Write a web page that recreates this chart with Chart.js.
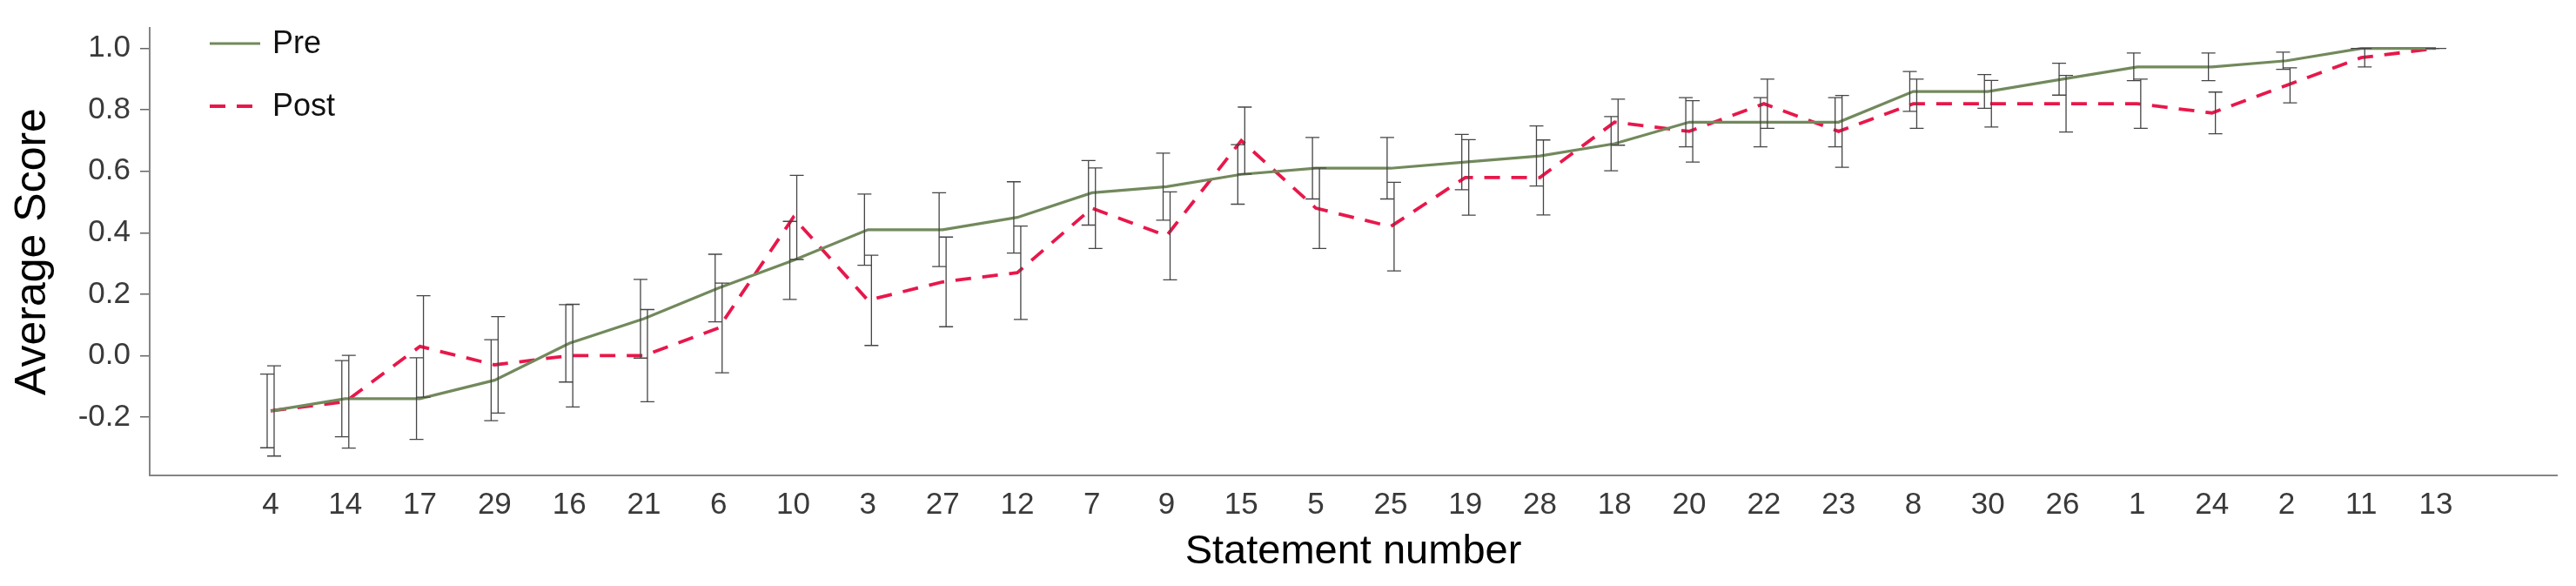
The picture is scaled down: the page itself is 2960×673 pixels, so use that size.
<!DOCTYPE html>
<html>
<head>
<meta charset="utf-8">
<script src="https://cdn.jsdelivr.net/npm/chart.js@4.4.1/dist/chart.umd.min.js"></script>
<style>
  html, body { margin: 0; padding: 0; background: #fff; }
  #wrap { width: 2960px; height: 673px; }
</style>
</head>
<body>
<div id="wrap"><canvas id="chart-statements" width="2960" height="673"></canvas></div>
<script>
// statement order on the x axis
var statements = ['4','14','17','29','16','21','6','10','3','27','12','7','9','15','5',
                  '25','19','28','18','20','22','23','8','30','26','1','24','2','11','13'];

// average scores
var preScore  = [-0.18,-0.14,-0.14,-0.08, 0.04, 0.12, 0.22, 0.31, 0.41, 0.41, 0.45, 0.53, 0.55, 0.59, 0.61,
                  0.61, 0.63, 0.65, 0.69, 0.76, 0.76, 0.76, 0.86, 0.86, 0.90, 0.94, 0.94, 0.96, 1.00, 1.00];
var postScore = [-0.18,-0.15, 0.03,-0.03, 0.00, 0.00, 0.09, 0.45, 0.18, 0.24, 0.27, 0.48, 0.39, 0.70, 0.48,
                  0.42, 0.58, 0.58, 0.76, 0.73, 0.82, 0.73, 0.82, 0.82, 0.82, 0.82, 0.79, 0.88, 0.97, 1.00];

// error bar half widths
var preErr  = [0.120,0.124,0.133,0.132,0.126,0.128,0.110,0.127,0.116,0.120,0.116,0.105,0.109,0.097,0.100,
               0.100,0.090,0.098,0.088,0.080,0.080,0.080,0.065,0.055,0.052,0.045,0.045,0.028,0.000,0.000];
var postErr = [0.147,0.151,0.165,0.157,0.167,0.150,0.146,0.137,0.147,0.146,0.152,0.131,0.143,0.109,0.131,
               0.144,0.123,0.122,0.075,0.100,0.080,0.117,0.080,0.076,0.092,0.080,0.068,0.057,0.030,0.000];

var yTicks = [-0.2, 0.0, 0.2, 0.4, 0.6, 0.8, 1.0];

var fontFam = "'Liberation Sans', Arial, sans-serif";

function toPoints(arr) {
  return arr.map(function (v, i) { return {x: i, y: v}; });
}

//ERROR BARS
var errorBars = {
  id: 'errorBars',
  afterDatasetsDraw: function (chart) {
    var ctx = chart.ctx;
    var xs = chart.scales.x, ys = chart.scales.y;
    var sets = [
      {mean: preScore, err: preErr, shift: -4},
      {mean: postScore, err: postErr, shift: 4}
    ];
    ctx.save();
    ctx.strokeStyle = '#454545';
    ctx.lineWidth = 1.3;
    sets.forEach(function (s) {
      for (var i = 0; i < s.mean.length; i++) {
        var px = xs.getPixelForValue(i) + s.shift;
        var top = ys.getPixelForValue(s.mean[i] + s.err[i]);
        var bot = ys.getPixelForValue(s.mean[i] - s.err[i]);
        ctx.beginPath();
        ctx.moveTo(px, top); ctx.lineTo(px, bot);
        ctx.moveTo(px - 8, top); ctx.lineTo(px + 8, top);
        ctx.moveTo(px - 8, bot); ctx.lineTo(px + 8, bot);
        ctx.stroke();
      }
    });
    ctx.restore();
  }
};

//LEGEND (inside the plot, top left)
var insideLegend = {
  id: 'insideLegend',
  afterDraw: function (chart) {
    var ctx = chart.ctx;
    var area = chart.chartArea;
    ctx.save();
    ctx.font = '36px ' + fontFam;
    ctx.textBaseline = 'middle';
    chart.data.datasets.forEach(function (ds, k) {
      var y = area.top + 18 + k * 72;
      var x0 = area.left + 69;
      ctx.strokeStyle = ds.borderColor;
      ctx.lineWidth = ds.borderWidth;
      ctx.setLineDash(ds.borderDash || []);
      ctx.beginPath();
      ctx.moveTo(x0, y); ctx.lineTo(x0 + 58, y);
      ctx.stroke();
      ctx.setLineDash([]);
      ctx.fillStyle = '#111';
      ctx.fillText(ds.label, x0 + 72, y + 1);
    });
    ctx.restore();
  }
};

var ctx = document.getElementById('chart-statements').getContext('2d');
var chart = new Chart(ctx, {
  type: 'line',
  data: {
    datasets: [
      {
        label: 'Pre',
        data: toPoints(preScore),
        borderColor: '#72895c',
        borderWidth: 3.2,
        pointRadius: 0,
        tension: 0,
        fill: false
      },
      {
        label: 'Post',
        data: toPoints(postScore),
        borderColor: '#e8174a',
        borderWidth: 3.8,
        borderDash: [18, 13],
        pointRadius: 0,
        tension: 0,
        fill: false
      }
    ]
  },
  options: {
    responsive: false,
    animation: false,
    layout: { padding: { top: 21, right: 22, left: 0, bottom: 0 } },
    plugins: {
      legend: { display: false },
      tooltip: { enabled: false }
    },
    scales: {
      x: {
        type: 'linear',
        min: -1.62,
        max: 30.62,
        afterBuildTicks: function (scale) {
          scale.ticks = statements.map(function (s, i) { return {value: i}; });
        },
        afterFit: function (scale) { scale.height = 127; },
        grid: { display: false, drawTicks: false },
        border: { display: true, color: '#858585', width: 2 },
        ticks: {
          autoSkip: false,
          maxRotation: 0,
          padding: 13,
          color: '#3a3a3a',
          font: { family: fontFam, size: 35 },
          callback: function (v) { return statements[v]; }
        },
        title: {
          display: true,
          text: 'Statement number',
          color: '#000',
          font: { family: fontFam, size: 47 },
          padding: { top: 0, bottom: 11 }
        }
      },
      y: {
        min: -0.39,
        max: 1.067,
        afterBuildTicks: function (scale) {
          scale.ticks = yTicks.map(function (v) { return {value: v}; });
        },
        afterFit: function (scale) { scale.width = 172; },
        grid: { drawOnChartArea: false, drawTicks: true, tickLength: 11, color: '#666', lineWidth: 1.5 },
        border: { display: true, color: '#858585', width: 2 },
        ticks: {
          padding: 11,
          color: '#3a3a3a',
          font: { family: fontFam, size: 35 },
          callback: function (v) { return v.toFixed(1); }
        },
        title: {
          display: true,
          text: 'Average Score',
          color: '#000',
          font: { family: fontFam, size: 50 },
          padding: { top: 8, bottom: 0 }
        }
      }
    }
  },
  plugins: [errorBars, insideLegend]
});
</script>
</body>
</html>
